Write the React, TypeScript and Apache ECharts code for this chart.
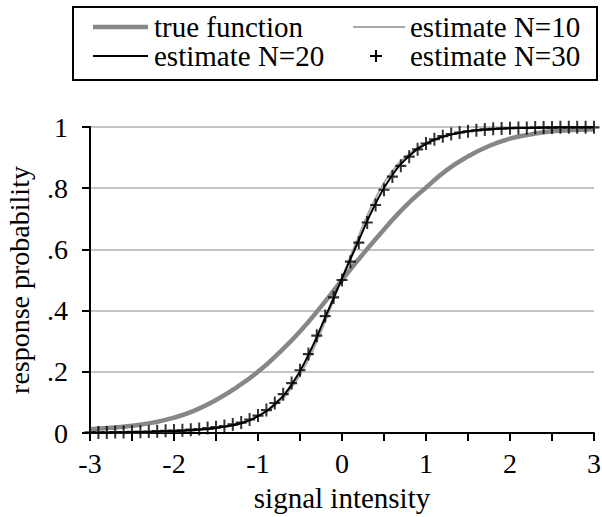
import React, { useEffect, useRef } from "react";
import * as echarts from "echarts";

// true function, sampled every 0.25 from -3 to 3
const trueX = [-3, -2.75, -2.5, -2.25, -2, -1.75, -1.5, -1.25, -1, -0.75, -0.5, -0.25, 0, 0.25, 0.5, 0.75, 1, 1.25, 1.5, 1.75, 2, 2.25, 2.5, 2.75, 3];
const trueY = [0.012, 0.017, 0.024, 0.034, 0.05, 0.074, 0.108, 0.15, 0.2, 0.262, 0.332, 0.413, 0.5, 0.585, 0.665, 0.74, 0.802, 0.86, 0.904, 0.938, 0.962, 0.976, 0.986, 0.99, 0.993];

// estimates N=10 and N=20, sampled every 0.2
const estX = [-3, -2.8, -2.6, -2.4, -2.2, -2, -1.8, -1.6, -1.4, -1.2, -1, -0.8, -0.6, -0.4, -0.2, 0, 0.2, 0.4, 0.6, 0.8, 1, 1.2, 1.4, 1.6, 1.8, 2, 2.2, 2.4, 2.6, 2.8, 3];
const n10Y = [0.0, 0.001, 0.001, 0.002, 0.003, 0.005, 0.008, 0.013, 0.021, 0.034, 0.055, 0.09, 0.148, 0.24, 0.365, 0.505, 0.645, 0.768, 0.856, 0.912, 0.948, 0.969, 0.982, 0.989, 0.993, 0.996, 0.997, 0.998, 0.999, 0.999, 1.0];
const n20Y = [0.001, 0.001, 0.002, 0.003, 0.004, 0.006, 0.009, 0.013, 0.02, 0.032, 0.055, 0.095, 0.158, 0.255, 0.378, 0.505, 0.63, 0.75, 0.843, 0.905, 0.945, 0.968, 0.981, 0.989, 0.993, 0.996, 0.997, 0.998, 0.999, 0.999, 1.0];

// estimate N=30, points every 0.1
const n30X = [-3, -2.9, -2.8, -2.7, -2.6, -2.5, -2.4, -2.3, -2.2, -2.1, -2, -1.9, -1.8, -1.7, -1.6, -1.5, -1.4, -1.3, -1.2, -1.1, -1, -0.9, -0.8, -0.7, -0.6, -0.5, -0.4, -0.3, -0.2, -0.1, 0, 0.1, 0.2, 0.3, 0.4, 0.5, 0.6, 0.7, 0.8, 0.9, 1, 1.1, 1.2, 1.3, 1.4, 1.5, 1.6, 1.7, 1.8, 1.9, 2, 2.1, 2.2, 2.3, 2.4, 2.5, 2.6, 2.7, 2.8, 2.9, 3];
const n30Y = [0.002, 0.002, 0.002, 0.003, 0.003, 0.004, 0.004, 0.005, 0.006, 0.007, 0.008, 0.009, 0.011, 0.013, 0.016, 0.019, 0.023, 0.028, 0.034, 0.044, 0.057, 0.075, 0.098, 0.127, 0.163, 0.205, 0.258, 0.318, 0.382, 0.443, 0.5, 0.56, 0.622, 0.688, 0.745, 0.795, 0.838, 0.873, 0.903, 0.927, 0.946, 0.96, 0.97, 0.977, 0.982, 0.986, 0.989, 0.992, 0.994, 0.995, 0.996, 0.997, 0.997, 0.998, 0.998, 0.998, 0.999, 0.999, 0.999, 0.999, 0.999];

const yTickLabels: Record<string, string> = { "0": "0", "0.2": ".2", "0.4": ".4", "0.6": ".6", "0.8": ".8", "1": "1" };
const legendLabels = ["true function", "estimate N=10", "estimate N=20", "estimate N=30"];

const FONT = "Liberation Serif";
const CROSS = "path://M4.5,0H6.5V5H11V7H6.5V12H4.5V7H0V5H4.5Z";

const zip = (xs: number[], ys: number[]) => xs.map((x, i) => [x, ys[i]]);

export default function App() {
  const ref = useRef<HTMLDivElement>(null);
  useEffect(() => {
    if (!ref.current) return;
    const chart = echarts.init(ref.current, undefined, { renderer: "svg" });
    const legendFont = { fontFamily: FONT, fontSize: 29, fill: "#000" };
    const row1 = 27;
    const row2 = 56;
    chart.setOption({
      animation: false,
      backgroundColor: "#fff",
      grid: { left: 90, right: 8, top: 127, bottom: 84, containLabel: false, outerBoundsMode: "none" },
      xAxis: {
        type: "value",
        min: -3,
        max: 3,
        interval: 0.5,
        name: "signal intensity",
        nameLocation: "middle",
        nameGap: 50,
        nameTextStyle: { fontFamily: FONT, fontSize: 29, color: "#000" },
        axisLine: { onZero: false, lineStyle: { color: "#000", width: 2 } },
        axisTick: { length: 8, lineStyle: { color: "#000", width: 2 } },
        axisLabel: {
          fontFamily: FONT,
          fontSize: 28,
          color: "#000",
          margin: 16,
          showMaxLabel: true,
          showMinLabel: true,
          formatter: (v: number) => (Number.isInteger(v) ? String(v) : ""),
        },
        splitLine: { show: false },
      },
      yAxis: {
        type: "value",
        min: 0,
        max: 1,
        interval: 0.2,
        name: "response probability",
        nameLocation: "middle",
        nameGap: 57,
        nameTextStyle: { fontFamily: FONT, fontSize: 28, color: "#000" },
        axisLine: { show: true, onZero: false, lineStyle: { color: "#000", width: 2 } },
        axisTick: { show: true, length: 8, lineStyle: { color: "#000", width: 2 } },
        axisLabel: {
          fontFamily: FONT,
          fontSize: 28,
          color: "#000",
          margin: 22,
          formatter: (v: number) => yTickLabels[String(Math.round(v * 10) / 10)] ?? "",
        },
        splitLine: { show: true, lineStyle: { color: "#c4c4c4", width: 2 } },
      },
      series: [
        {
          name: legendLabels[0],
          type: "line",
          data: zip(trueX, trueY),
          smooth: true,
          symbol: "none",
          lineStyle: { color: "#878787", width: 4.5 },
          z: 1,
        },
        {
          name: legendLabels[1],
          type: "line",
          data: zip(estX, n10Y),
          smooth: true,
          symbol: "none",
          lineStyle: { color: "#a8a8a8", width: 1.8 },
          z: 2,
        },
        {
          name: legendLabels[2],
          type: "line",
          data: zip(estX, n20Y),
          smooth: true,
          symbol: "none",
          lineStyle: { color: "#000", width: 2 },
          z: 3,
        },
        {
          name: legendLabels[3],
          type: "scatter",
          data: zip(n30X, n30Y),
          symbol: CROSS,
          symbolSize: [11, 13],
          itemStyle: { color: "#000" },
          z: 4,
        },
      ],
      graphic: [
        {
          type: "rect",
          shape: { x: 73, y: 7, width: 524, height: 73 },
          style: { fill: "none", stroke: "#000", lineWidth: 2 },
        },
        { type: "line", shape: { x1: 93, y1: row1, x2: 148, y2: row1 }, style: { stroke: "#878787", lineWidth: 4.5 } },
        { type: "text", x: 154, y: row1, style: { ...legendFont, text: legendLabels[0], verticalAlign: "middle" } },
        { type: "line", shape: { x1: 353, y1: row1, x2: 405, y2: row1 }, style: { stroke: "#a8a8a8", lineWidth: 1.8 } },
        { type: "text", x: 410, y: row1, style: { ...legendFont, text: legendLabels[1], verticalAlign: "middle" } },
        { type: "line", shape: { x1: 93, y1: row2, x2: 148, y2: row2 }, style: { stroke: "#000", lineWidth: 2 } },
        { type: "text", x: 154, y: row2, style: { ...legendFont, text: legendLabels[2], verticalAlign: "middle" } },
        { type: "line", shape: { x1: 370, y1: row2, x2: 382, y2: row2 }, style: { stroke: "#000", lineWidth: 2 } },
        { type: "line", shape: { x1: 376, y1: row2 - 6, x2: 376, y2: row2 + 6 }, style: { stroke: "#000", lineWidth: 2 } },
        { type: "text", x: 410, y: row2, style: { ...legendFont, text: legendLabels[3], verticalAlign: "middle" } },
      ],
    });
    return () => chart.dispose();
  }, []);
  return <div ref={ref} style={{ position: "fixed", left: 0, top: 0, width: 602, height: 517 }} />;
}
